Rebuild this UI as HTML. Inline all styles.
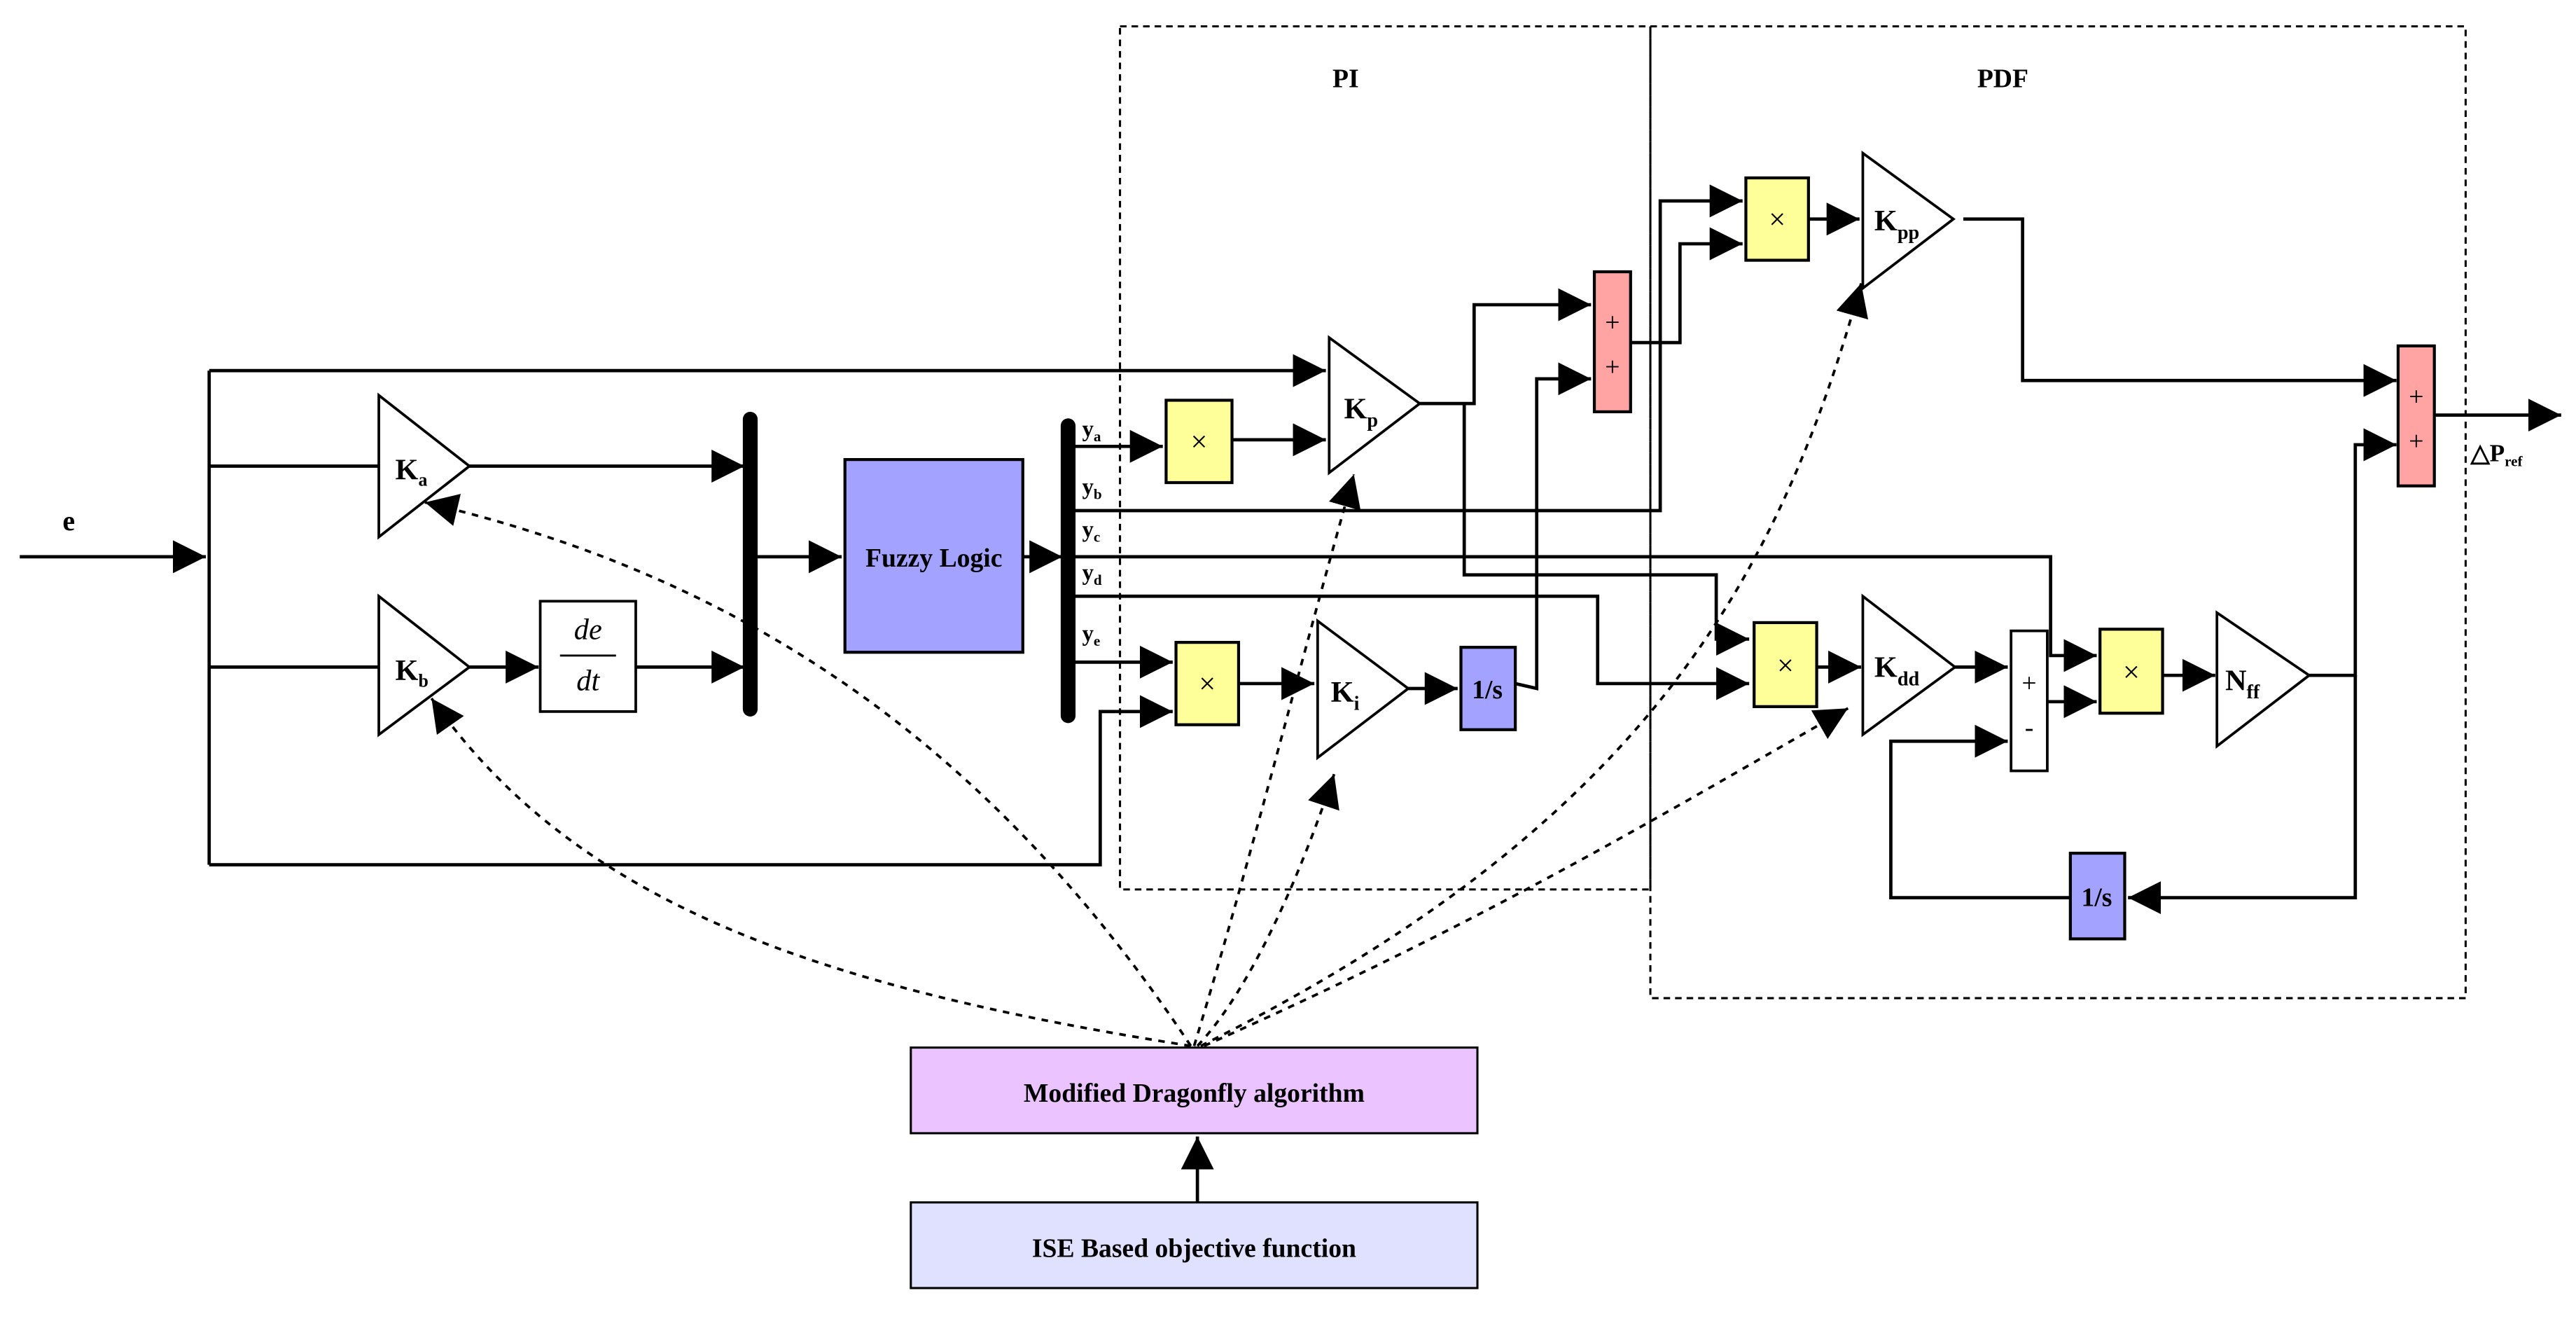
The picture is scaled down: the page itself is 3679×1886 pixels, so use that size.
<!DOCTYPE html>
<html><head><meta charset="utf-8"><style>html,body{margin:0;padding:0;background:#fff}svg{display:block}</style></head>
<body>
<svg width="3679" height="1886" viewBox="0 0 1564 802" preserveAspectRatio="none" xmlns="http://www.w3.org/2000/svg" font-family="Liberation Serif, serif" font-weight="bold">
<defs>
<marker id="a" viewBox="0 0 10 10" refX="10" refY="5" markerWidth="20" markerHeight="20" markerUnits="userSpaceOnUse" orient="auto"><path d="M0,0L10,5L0,10z" fill="#000"/></marker>
</defs>
<rect width="1564" height="802" fill="#fff"/>
<g fill="none" stroke="#000" stroke-width="1.3" stroke-dasharray="4,3">
<rect x="680" y="16" width="322" height="524"/>
<rect x="1002" y="16" width="495" height="590"/>
</g>
<text x="817" y="53" font-size="16" text-anchor="middle">PI</text>
<text x="1216" y="53" font-size="16" text-anchor="middle">PDF</text>
<g fill="none" stroke="#000" stroke-width="2">
<path d="M12,338H125" marker-end="url(#a)"/>
<path d="M127,225V525"/>
<path d="M127,225H805" marker-end="url(#a)"/>
<path d="M127,283H230"/>
<path d="M127,405H230"/>
<path d="M285,283H452" marker-end="url(#a)"/>
<path d="M285,405H327" marker-end="url(#a)"/>
<path d="M386,405H452" marker-end="url(#a)"/>
<path d="M127,525H668V432H712" marker-end="url(#a)"/>
<path d="M460,338H511" marker-end="url(#a)"/>
<path d="M621,338H645" marker-end="url(#a)"/>
<path d="M652,271H706" marker-end="url(#a)"/>
<path d="M748,267H805" marker-end="url(#a)"/>
<path d="M652,310H1008V122H1058" marker-end="url(#a)"/>
<path d="M652,338H1245V398H1273" marker-end="url(#a)"/>
<path d="M652,362H970V415H1062" marker-end="url(#a)"/>
<path d="M652,402H712" marker-end="url(#a)"/>
<path d="M752,415H798" marker-end="url(#a)"/>
<path d="M855,418H885" marker-end="url(#a)"/>
<path d="M920,415L933,418V230H966" marker-end="url(#a)"/>
<path d="M862,245H895V185H966" marker-end="url(#a)"/>
<path d="M889,245V349H1042V388H1062" marker-end="url(#a)"/>
<path d="M990,208H1020V148H1058" marker-end="url(#a)"/>
<path d="M1098,133H1129" marker-end="url(#a)"/>
<path d="M1192,133H1228V231H1455" marker-end="url(#a)"/>
<path d="M1478,252H1555" marker-end="url(#a)"/>
<path d="M1103,405H1130" marker-end="url(#a)"/>
<path d="M1187,405H1219" marker-end="url(#a)"/>
<path d="M1243,426H1273" marker-end="url(#a)"/>
<path d="M1313,410H1345" marker-end="url(#a)"/>
<path d="M1402,410H1430V270H1455" marker-end="url(#a)"/>
<path d="M1430,410V545H1292" marker-end="url(#a)"/>
<path d="M1257,545H1148V450H1219" marker-end="url(#a)"/>
<path d="M727,730V690" marker-end="url(#a)"/>
</g>
<!-- mux bars -->
<rect x="451" y="250" width="9" height="185" rx="4.5" fill="#000"/>
<rect x="644" y="254" width="9" height="185" rx="4.5" fill="#000"/>
<!-- triangles -->
<g fill="#fff" stroke="#000" stroke-width="1.6">
<path d="M230,240L285,283L230,326Z"/>
<path d="M230,362L285,405L230,446Z"/>
<path d="M807,205L862,245L807,287Z"/>
<path d="M800,377L855,418L800,460Z"/>
<path d="M1131,93L1186,133L1131,175Z"/>
<path d="M1131,362L1187,405L1131,446Z"/>
<path d="M1346,372L1402,410L1346,453Z"/>
<rect x="328" y="365" width="58" height="67"/>
<rect x="1221" y="383" width="22" height="85"/>
</g>
<g stroke="#000" stroke-width="1.8">
<rect x="513" y="279" width="108" height="117" fill="#a3a3ff"/>
<rect x="708" y="243" width="40" height="50" fill="#ffff99"/>
<rect x="714" y="390" width="38" height="50" fill="#ffff99"/>
<rect x="1060" y="108" width="38" height="50" fill="#ffff99"/>
<rect x="1065" y="378" width="38" height="51" fill="#ffff99"/>
<rect x="1275" y="382" width="38" height="51" fill="#ffff99"/>
<rect x="887" y="393" width="33" height="50" fill="#a3a3ff"/>
<rect x="1257" y="518" width="33" height="52" fill="#a3a3ff"/>
<rect x="968" y="165" width="22" height="85" fill="#ffa3a3"/>
<rect x="1456" y="210" width="22" height="85" fill="#ffa3a3"/>
<rect x="553" y="636" width="344" height="52" fill="#ebc3ff" stroke-width="1.3"/>
<rect x="553" y="730" width="344" height="52" fill="#e0e0ff" stroke-width="1.3"/>
</g>
<line x1="340" y1="398" x2="374" y2="398" stroke="#000" stroke-width="1.2"/>
<g font-size="18">
<text x="38" y="322" font-size="17">e</text>
<text x="240" y="291">K<tspan font-size="11" dy="4">a</tspan></text>
<text x="240" y="413">K<tspan font-size="11" dy="4">b</tspan></text>
<text x="816" y="254">K<tspan font-size="12" dy="5">p</tspan></text>
<text x="808" y="426">K<tspan font-size="12" dy="5">i</tspan></text>
<text x="1138" y="140">K<tspan font-size="12" dy="5">pp</tspan></text>
<text x="1138" y="411">K<tspan font-size="12" dy="5">dd</tspan></text>
<text x="1351" y="419">N<tspan font-size="12" dy="5">ff</tspan></text>
</g>
<text x="357" y="388" font-size="18" font-style="italic" font-weight="normal" text-anchor="middle">de</text>
<text x="357" y="419" font-size="18" font-style="italic" font-weight="normal" text-anchor="middle">dt</text>
<text x="567" y="344" font-size="16" text-anchor="middle">Fuzzy Logic</text>
<g font-size="14">
<text x="657" y="265">y<tspan font-size="9" dy="3">a</tspan></text>
<text x="657" y="300">y<tspan font-size="9" dy="3">b</tspan></text>
<text x="657" y="326">y<tspan font-size="9" dy="3">c</tspan></text>
<text x="657" y="352">y<tspan font-size="9" dy="3">d</tspan></text>
<text x="657" y="389">y<tspan font-size="9" dy="3">e</tspan></text>
</g>
<g font-size="18" font-weight="normal" text-anchor="middle">
<text x="728" y="274">×</text><text x="733" y="421">×</text><text x="1079" y="139">×</text><text x="1084" y="410">×</text><text x="1294" y="414">×</text>
</g>
<g font-size="16" text-anchor="middle" font-weight="normal">
<text x="979" y="201">+</text><text x="979" y="228">+</text>
<text x="1467" y="246">+</text><text x="1467" y="273">+</text>
<text x="1232" y="420">+</text><text x="1232" y="447">-</text>
</g>
<text x="903" y="424" font-size="16" text-anchor="middle">1/s</text>
<text x="1273" y="550" font-size="16" text-anchor="middle">1/s</text>
<text x="1500" y="280" font-size="15">△P<tspan font-size="9" dy="3">ref</tspan></text>
<text x="725" y="669" font-size="16" text-anchor="middle">Modified Dragonfly algorithm</text>
<text x="725" y="763" font-size="16" text-anchor="middle">ISE Based objective function</text>
<g fill="none" stroke="#000" stroke-width="1.6" stroke-dasharray="4,4">
<path d="M723,635C600,450 450,350 258,305" marker-end="url(#a)"/>
<path d="M723,635C500,600 350,550 262,424" marker-end="url(#a)"/>
<path d="M725,635C760,520 790,400 822,288" marker-end="url(#a)"/>
<path d="M727,635C760,600 790,530 810,470" marker-end="url(#a)"/>
<path d="M729,635C1000,500 1080,350 1130,172" marker-end="url(#a)"/>
<path d="M731,635C900,560 1000,500 1122,430" marker-end="url(#a)"/>
</g>
</svg>
</body></html>
